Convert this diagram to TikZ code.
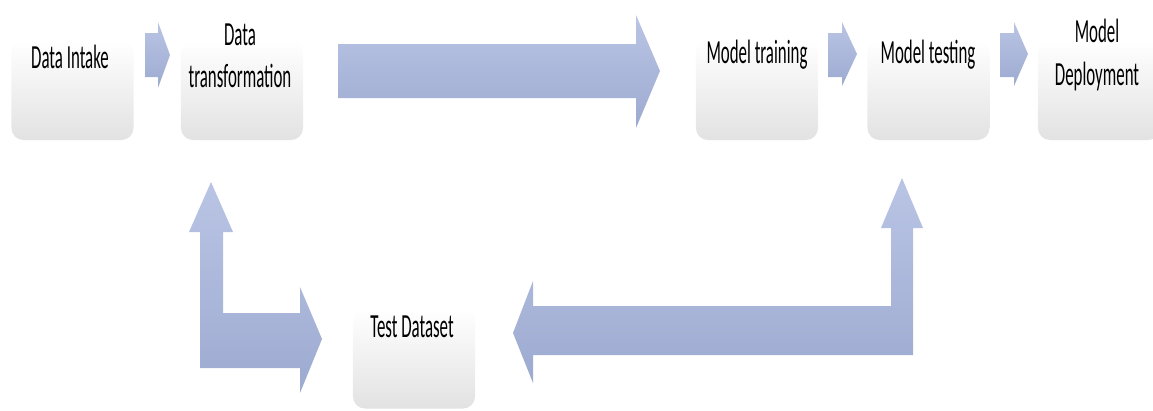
\documentclass[tikz,border=0pt]{standalone}
\usepackage{fontspec}
\newfontfamily\stagefont[FakeStretch=0.5]{Carlito}
\usetikzlibrary{positioning}
\definecolor{arrowtop}{RGB}{186,197,229}
\definecolor{arrowbot}{RGB}{157,170,208}
\definecolor{boxbot}{RGB}{226,226,226}
\tikzset{
  stage/.style={minimum width=3.05cm, minimum height=2.5cm, rounded corners=0.3cm,
    top color=white, middle color=white, bottom color=boxbot, draw=none, inner sep=0pt},
  stagetext/.style={inner sep=0pt, align=center, font=\stagefont\fontsize{24}{30}\selectfont},
  blockarrow/.style={top color=arrowtop, bottom color=arrowbot, draw=none}
}

\begin{document}
\begin{tikzpicture}[x=0.025cm,y=-0.025cm]
			\useasboundingbox (0,0) rectangle (1153,410);
			\node[stage] (intake) at (72.5,90) {};
			\node[stage] (transform) at (242,90) {};
			\node[stage] (training) at (757,90) {};
			\node[stage] (testing) at (928.5,90) {};
			\node[stage] (deploy) at (1099,90) {};
			\node[stage] (dataset) at (414,358.5) {};
			\node[stagetext] (intake-t) at (70,57) {Data Intake};
			\node[stagetext] (transform-t) at (240,56) {Data\\transformation};
			\node[stagetext] (training-t) at (757,55) {Model training};
			\node[stagetext] (testing-t) at (928,55) {Model testing};
			\node[stagetext] (deploy-t) at (1097,55) {Model\\Deployment};
			\node[stagetext] (dataset-t) at (412,327) {Test Dataset};

			% forward arrows
			\begin{scope}[blockarrow]
			\shade (145,33) -- (158,33) -- (158,22) -- (170,55) -- (158,88) -- (158,77) -- (145,77) -- cycle;
			\shade (338,44) -- (636,44) -- (636,15) -- (660,71) -- (636,128) -- (636,98) -- (338,98) -- cycle;
			\shade (828,33) -- (842,33) -- (842,22) -- (857,54) -- (842,86) -- (842,77) -- (828,77) -- cycle;
			\shade (1000,33) -- (1014,33) -- (1014,22) -- (1028,54) -- (1014,86) -- (1014,77) -- (1000,77) -- cycle;
			\end{scope}

			% bent arrows to and from the test dataset
			\begin{scope}[blockarrow]
			\shade (200,368) -- (200,232) -- (189,232) -- (211,182) -- (233,232) -- (223,232) -- (223,313) -- (300,313) -- (300,287) -- (322,339) -- (300,393) -- (300,368) -- cycle;
			\shade (913,355) -- (913,228) -- (923,228) -- (902,178) -- (881,228) -- (891,228) -- (891,306) -- (533,306) -- (533,281) -- (513,333) -- (533,383) -- (533,355) -- cycle;
			\end{scope}
\end{tikzpicture}
\end{document}
